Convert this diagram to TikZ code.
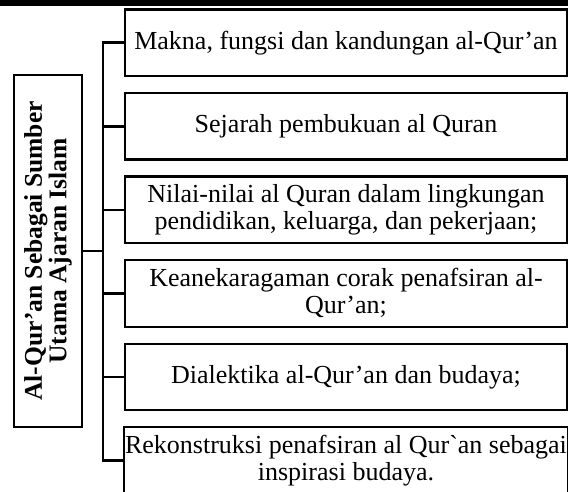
\documentclass[tikz,border=0pt]{standalone}
\usepackage{fontspec}
\setmainfont{Liberation Serif}[Ligatures=TeXOff]
\begin{document}
\begin{tikzpicture}[x=1pt,y=-1pt,
  topic/.style={draw=black, fill=white, line width=2.2pt, minimum width=442pt,
    minimum height=66.5pt, inner sep=1pt, align=center,
    font=\fontsize{26}{27}\selectfont},
  rootbox/.style={draw=black, fill=white, line width=2.2pt, rotate=90,
    minimum width=352pt, minimum height=68pt, inner sep=1pt, align=center,
    font=\fontsize{25.5}{24.5}\selectfont\bfseries},
  link/.style={line width=2.6pt, line cap=rect}]
\useasboundingbox (0,0) rectangle (568,492);
\clip (0,0) rectangle (568,492);
% rule along the upper edge
\fill[black] (0,0) rectangle (568,6.5);

% trunk position
\coordinate (tk) at (103,0);

% root topic, set vertically
\node[rootbox] (root) at (48,251) {Al-Qur’an Sebagai Sumber\\Utama Ajaran Islam};

% sub-topics
\node[topic] (b1) at (346,42.75)  {Makna, fungsi dan kandungan al-Qur’an};
\node[topic] (b2) at (346,126.3)  {Sejarah pembukuan al Quran};
\node[topic] (b3) at (346,209.85) {Nilai-nilai al Quran dalam lingkungan\\pendidikan, keluarga, dan pekerjaan;};
\node[topic] (b4) at (346,293.4)  {Keanekaragaman corak penafsiran al-\\Qur’an;};
\node[topic] (b5) at (346,376.95) {Dialektika al-Qur’an dan budaya;};
\node[topic] (b6) at (346,460.5)  {Rekonstruksi penafsiran al Qur`an sebagai\\inspirasi budaya.};

% connectors
\draw[link] (root.south) -- (root.south -| tk);
\draw[link] (b1.west) -- (b1.west -| tk) -- (b6.west -| tk) -- (b6.west);
\foreach \b in {b2,b3,b4,b5}
  \draw[link] (\b.west) -- (\b.west -| tk);
\end{tikzpicture}
\end{document}
